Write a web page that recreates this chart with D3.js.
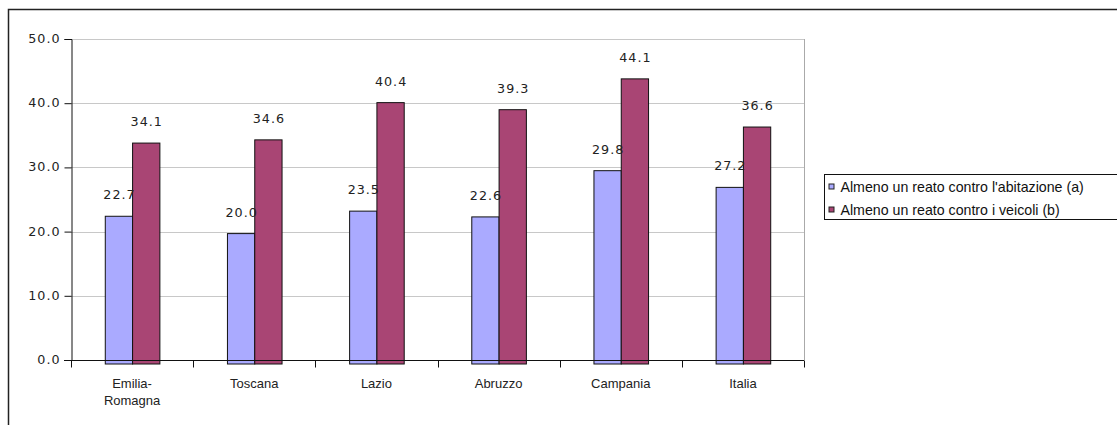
<!DOCTYPE html>
<html>
<head>
<meta charset="utf-8">
<script src="https://cdn.jsdelivr.net/npm/d3@7"></script>
<style>
  html, body { margin: 0; padding: 0; background: #fff; }
  svg { display: block; }
  .num { font-family: "DejaVu Sans", sans-serif; font-size: 12.7px; letter-spacing: 1px; fill: #222; }
  .cat { font-family: "Liberation Sans", Arial, sans-serif; font-size: 13px; fill: #222; }
  .leg { font-family: "Liberation Sans", Arial, sans-serif; font-size: 14.2px; fill: #111; }
</style>
</head>
<body>
<svg id="chart" width="1117" height="425"></svg>
<script>
// Regions (multi-line labels split on "\n")
const categories = ["Emilia-\nRomagna", "Toscana", "Lazio", "Abruzzo", "Campania", "Italia"];
const seriesNames = [
  "Almeno un reato contro l'abitazione (a)",
  "Almeno un reato contro i veicoli (b)"
];
const abitazione = [22.7, 20.0, 23.5, 22.6, 29.8, 27.2];
const veicoli    = [34.1, 34.6, 40.4, 39.3, 44.1, 36.6];
const yTicks = [0, 10, 20, 30, 40, 50];
const colors = ["#aaaaff", "#a94574"];

const svg = d3.select("#chart");

// Outer frame
svg.append("rect")
  .attr("x", 8.5).attr("y", 9.5)
  .attr("width", 1200).attr("height", 600)
  .attr("fill", "none").attr("stroke", "#222").attr("stroke-width", 1.5);

const plot = { left: 71, right: 804, top: 39, bottom: 360 };

const x = d3.scaleBand().domain(categories).range([plot.left, plot.right]).padding(0);
const y = d3.scaleLinear().domain([0, 50]).range([plot.bottom, plot.top]);
const barW = 27.3;
const xs = d3.scaleBand().domain([0, 1]).range([-barW, barW]).padding(0);

// Gridlines
svg.append("g")
  .selectAll("line").data(yTicks.filter(d => d > 0)).join("line")
  .attr("x1", plot.left).attr("x2", plot.right)
  .attr("y1", d => Math.round(y(d)) + 0.5).attr("y2", d => Math.round(y(d)) + 0.5)
  .attr("stroke", "#c8c8c8").attr("stroke-width", 1);

// Plot area right edge
svg.append("line")
  .attr("x1", plot.right + 0.5).attr("x2", plot.right + 0.5)
  .attr("y1", plot.top).attr("y2", plot.bottom)
  .attr("stroke", "#aaaaaa");

// Bars
const rows = categories.map((c, i) => ({ cat: c, vals: [abitazione[i], veicoli[i]] }));
const groups = svg.append("g").selectAll("g").data(rows).join("g")
  .attr("transform", d => `translate(${x(d.cat) + x.bandwidth() / 2},0)`);

groups.selectAll("rect").data(d => d.vals.map((v, k) => ({ v, k }))).join("rect")
  .attr("x", d => xs(d.k) + 0.5)
  .attr("y", d => y(d.v) + 2)
  .attr("width", xs.bandwidth())
  .attr("height", d => y(0) - y(d.v) + 2)
  .attr("fill", d => colors[d.k])
  .attr("stroke", "#111").attr("stroke-width", 1);

// Value labels
groups.selectAll("text").data(d => d.vals.map((v, k) => ({ v, k }))).join("text")
  .attr("class", "num")
  .attr("x", d => xs(d.k) + xs.bandwidth() / 2 + 1)
  .attr("y", d => y(d.v) - 15)
  .attr("text-anchor", "middle")
  .text(d => d.v.toFixed(1));

// Y axis
const yAxis = d3.axisLeft(y).tickValues(yTicks).tickSize(7).tickPadding(4)
  .tickFormat(d => d.toFixed(1));
const ya = svg.append("g").attr("transform", `translate(${plot.left + 0.5},0)`).call(yAxis);
ya.select(".domain").attr("stroke", "#111");
ya.selectAll(".tick line").attr("stroke", "#111");
ya.selectAll(".tick text").attr("class", "num").attr("dy", "0.28em").attr("fill", "#222");

// X axis
const xa = svg.append("g").attr("transform", `translate(0,${plot.bottom + 0.5})`);
xa.append("line")
  .attr("x1", plot.left - 7).attr("x2", plot.right)
  .attr("stroke", "#111");
const boundaries = categories.map(c => x(c)).concat([plot.right]);
xa.selectAll("line.tk").data(boundaries).join("line").attr("class", "tk")
  .attr("x1", d => Math.round(d) + 0.5).attr("x2", d => Math.round(d) + 0.5)
  .attr("y1", 0).attr("y2", 7)
  .attr("stroke", "#111");

const catText = svg.append("g").selectAll("text").data(categories).join("text")
  .attr("class", "cat")
  .attr("text-anchor", "middle")
  .attr("x", d => x(d) + x.bandwidth() / 2)
  .attr("y", 388);
catText.selectAll("tspan").data(d => d.split("\n").map((t, i) => ({ t, i, c: d }))).join("tspan")
  .attr("x", d => x(d.c) + x.bandwidth() / 2)
  .attr("dy", d => d.i === 0 ? 0 : 17)
  .text(d => d.t);

// Legend
const leg = svg.append("g").attr("transform", "translate(824.5,174.5)");
leg.append("rect").attr("width", 400).attr("height", 45)
  .attr("fill", "#fff").attr("stroke", "#111").attr("stroke-width", 1);
const li = leg.selectAll("g").data(seriesNames).join("g")
  .attr("transform", (d, i) => `translate(0,${12 + i * 23})`);
li.append("rect").attr("x", 4.5).attr("y", -2.5).attr("width", 5).attr("height", 5)
  .attr("fill", (d, i) => colors[i]).attr("stroke", "#222").attr("stroke-width", 1);
li.append("text").attr("class", "leg").attr("x", 16).attr("y", 5).text(d => d);
</script>
</body>
</html>
